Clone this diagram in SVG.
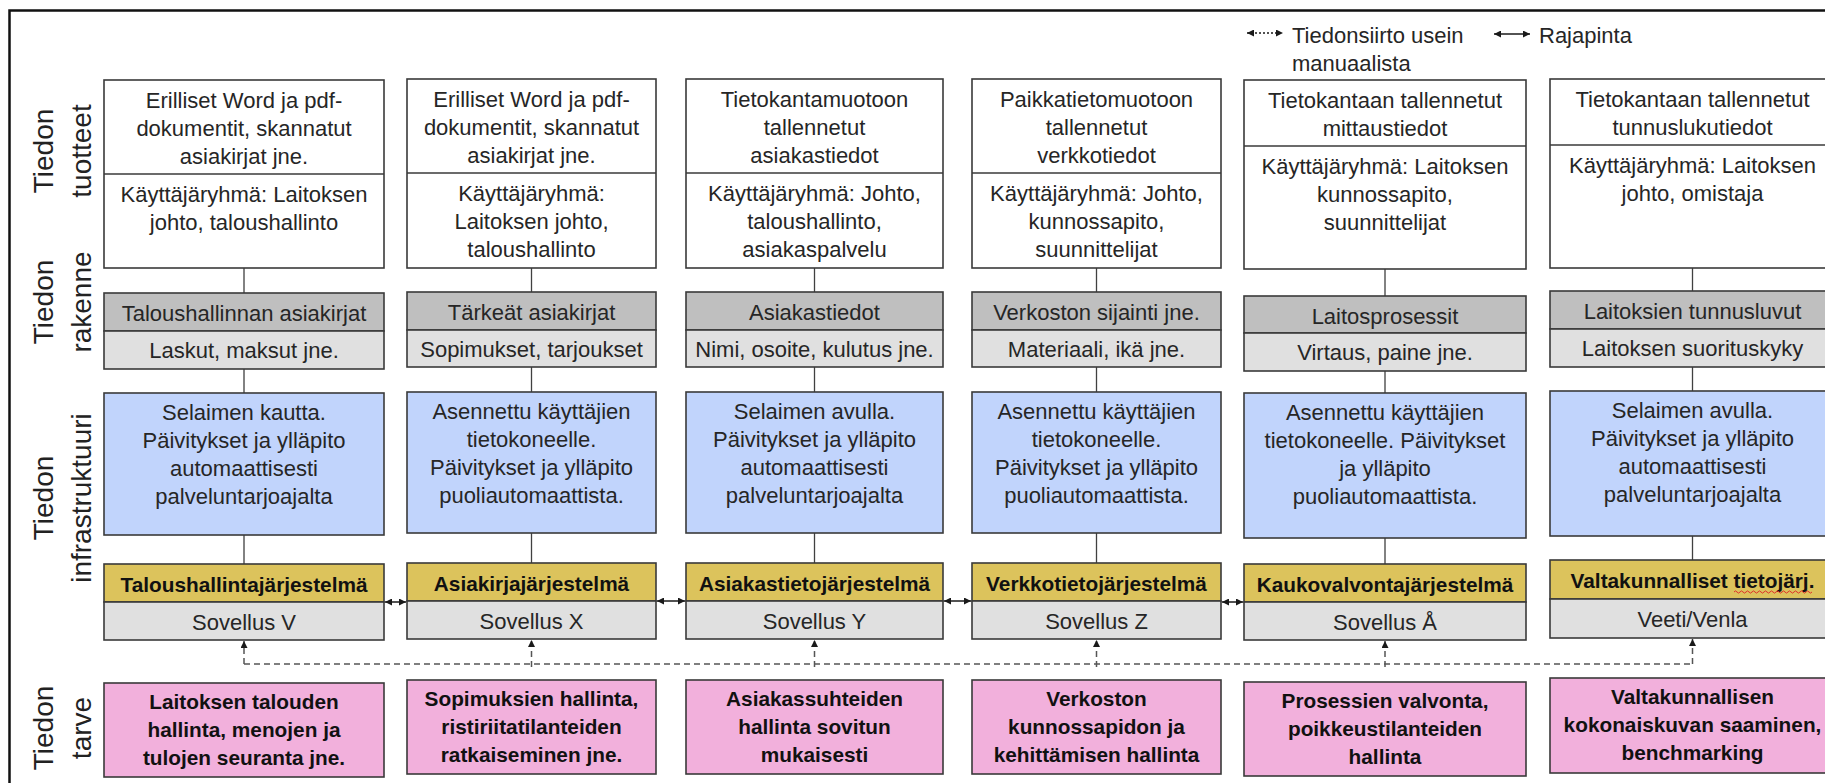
<svg xmlns="http://www.w3.org/2000/svg" width="1825" height="783" viewBox="0 0 1825 783">
<defs>
<style>
.box{stroke:#3a3a3a;stroke-width:1.6}
.w{fill:#ffffff}.dg{fill:#bfbfbf}.lg{fill:#e0e0e0}.bl{fill:#c1d4fc}.ye{fill:#dcc35c}.pk{fill:#f2b0dc}
.div{stroke:#3a3a3a;stroke-width:1.6}
text{font-family:"Liberation Sans",Arial,sans-serif;fill:#262626}
.t{font-size:22px;text-anchor:middle}
.tb{font-size:20.8px;font-weight:bold;text-anchor:middle;fill:#111}
.lbl{font-size:28px;text-anchor:middle;fill:#222}
.leg{font-size:22px}
.con{stroke:#404040;stroke-width:1.3;fill:none}
.api{stroke:#1a1a1a;stroke-width:1.5;fill:none}
.man{stroke:#555;stroke-width:1.5;fill:none;stroke-dasharray:6 4}
</style>
<marker id="ah" viewBox="0 0 10 10" refX="10" refY="5" markerWidth="7" markerHeight="7" markerUnits="userSpaceOnUse" orient="auto-start-reverse">
<path d="M0,0 L10,5 L0,10 z" fill="#1a1a1a"/>
</marker>
</defs>

<!-- frame -->
<path d="M9.5,790 V10.5 H1840" fill="none" stroke="#111" stroke-width="2.5"/>

<!-- row labels -->
<g id="labels">
<text class="lbl" transform="translate(53,151) rotate(-90)"><tspan x="0" y="0">Tiedon</tspan><tspan x="0" y="38">tuotteet</tspan></text>
<text class="lbl" transform="translate(53,302) rotate(-90)"><tspan x="0" y="0">Tiedon</tspan><tspan x="0" y="38">rakenne</tspan></text>
<text class="lbl" transform="translate(53,498) rotate(-90)"><tspan x="0" y="0">Tiedon</tspan><tspan x="0" y="38">infrastruktuuri</tspan></text>
<text class="lbl" transform="translate(53,728) rotate(-90)"><tspan x="0" y="0">Tiedon</tspan><tspan x="0" y="38">tarve</tspan></text>
</g>

<!-- legend -->
<g id="legend">
<line x1="1247" y1="33" x2="1283" y2="33" stroke="#1a1a1a" stroke-width="1.4" stroke-dasharray="2 2" marker-start="url(#ah)" marker-end="url(#ah)"/>
<text class="leg" x="1292" y="43">Tiedonsiirto usein</text>
<text class="leg" x="1292" y="71">manuaalista</text>
<line x1="1494" y1="34" x2="1530" y2="34" class="api" marker-start="url(#ah)" marker-end="url(#ah)"/>
<text class="leg" x="1539" y="43">Rajapinta</text>
</g>

<!-- connectors -->
<g id="connectors">
<path class="con" d="M244,268 V293 M244,369 V393 M244,535 V564"/>
<path class="con" d="M531.5,268 V292 M531.5,367 V392 M531.5,533 V563"/>
<path class="con" d="M814.5,268 V292 M814.5,367 V392 M814.5,533 V563"/>
<path class="con" d="M1096.5,268 V292 M1096.5,367 V392 M1096.5,533 V563"/>
<path class="con" d="M1385,269 V296 M1385,371 V393 M1385,538 V564"/>
<path class="con" d="M1692.5,268 V291 M1692.5,367 V391 M1692.5,536 V560"/>
<line class="api" x1="385" y1="602" x2="406" y2="602" marker-start="url(#ah)" marker-end="url(#ah)"/>
<line class="api" x1="657" y1="601" x2="685" y2="601" marker-start="url(#ah)" marker-end="url(#ah)"/>
<line class="api" x1="944" y1="601" x2="971" y2="601" marker-start="url(#ah)" marker-end="url(#ah)"/>
<line class="api" x1="1222" y1="602" x2="1243" y2="602" marker-start="url(#ah)" marker-end="url(#ah)"/>
<path class="man" d="M244,664 H1692.5"/>
<line class="man" x1="244" y1="664" x2="244" y2="641" marker-end="url(#ah)"/>
<line class="man" x1="531.5" y1="667" x2="531.5" y2="640" marker-end="url(#ah)"/>
<line class="man" x1="814.5" y1="667" x2="814.5" y2="640" marker-end="url(#ah)"/>
<line class="man" x1="1096.5" y1="667" x2="1096.5" y2="640" marker-end="url(#ah)"/>
<line class="man" x1="1385" y1="667" x2="1385" y2="641" marker-end="url(#ah)"/>
<line class="man" x1="1692.5" y1="664" x2="1692.5" y2="639" marker-end="url(#ah)"/>
</g>

<!-- column 1 -->
<g id="tuote-1">
<rect class="box w" x="104" y="80" width="280" height="188"/>
<line class="div" x1="104" y1="174" x2="384" y2="174"/>
<text class="t" x="244" y="108">Erilliset Word ja pdf-</text>
<text class="t" x="244" y="136">dokumentit, skannatut</text>
<text class="t" x="244" y="164">asiakirjat jne.</text>
<text class="t" x="244" y="202">Käyttäjäryhmä: Laitoksen</text>
<text class="t" x="244" y="230">johto, taloushallinto</text>
</g>
<g id="rakenne-1">
<rect class="box dg" x="104" y="293" width="280" height="38"/>
<rect class="box lg" x="104" y="331" width="280" height="38"/>
<text class="t" x="244" y="321">Taloushallinnan asiakirjat</text>
<text class="t" x="244" y="358">Laskut, maksut jne.</text>
</g>
<g id="infra-1">
<rect class="box bl" x="104" y="393" width="280" height="142"/>
<text class="t" x="244" y="420">Selaimen kautta.</text>
<text class="t" x="244" y="448">Päivitykset ja ylläpito</text>
<text class="t" x="244" y="476">automaattisesti</text>
<text class="t" x="244" y="504">palveluntarjoajalta</text>
</g>
<g id="jarjestelma-1">
<rect class="box ye" x="104" y="564" width="280" height="38"/>
<rect class="box lg" x="104" y="602" width="280" height="38"/>
<text class="tb" x="244" y="592">Taloushallintajärjestelmä</text>
<text class="t" x="244" y="630">Sovellus V</text>
</g>
<g id="tarve-1">
<rect class="box pk" x="104" y="683" width="280" height="94"/>
<text class="tb" x="244" y="709">Laitoksen talouden</text>
<text class="tb" x="244" y="737">hallinta, menojen ja</text>
<text class="tb" x="244" y="765">tulojen seuranta jne.</text>
</g>

<!-- column 2 -->
<g id="tuote-2">
<rect class="box w" x="407" y="79" width="249" height="189"/>
<line class="div" x1="407" y1="173" x2="656" y2="173"/>
<text class="t" x="531.5" y="107">Erilliset Word ja pdf-</text>
<text class="t" x="531.5" y="135">dokumentit, skannatut</text>
<text class="t" x="531.5" y="163">asiakirjat jne.</text>
<text class="t" x="531.5" y="201">Käyttäjäryhmä:</text>
<text class="t" x="531.5" y="229">Laitoksen johto,</text>
<text class="t" x="531.5" y="257">taloushallinto</text>
</g>
<g id="rakenne-2">
<rect class="box dg" x="407" y="292" width="249" height="38"/>
<rect class="box lg" x="407" y="330" width="249" height="37"/>
<text class="t" x="531.5" y="320">Tärkeät asiakirjat</text>
<text class="t" x="531.5" y="357">Sopimukset, tarjoukset</text>
</g>
<g id="infra-2">
<rect class="box bl" x="407" y="392" width="249" height="141"/>
<text class="t" x="531.5" y="419">Asennettu käyttäjien</text>
<text class="t" x="531.5" y="447">tietokoneelle.</text>
<text class="t" x="531.5" y="475">Päivitykset ja ylläpito</text>
<text class="t" x="531.5" y="503">puoliautomaattista.</text>
</g>
<g id="jarjestelma-2">
<rect class="box ye" x="407" y="563" width="249" height="38"/>
<rect class="box lg" x="407" y="601" width="249" height="38"/>
<text class="tb" x="531.5" y="591">Asiakirjajärjestelmä</text>
<text class="t" x="531.5" y="629">Sovellus X</text>
</g>
<g id="tarve-2">
<rect class="box pk" x="407" y="680" width="249" height="94"/>
<text class="tb" x="531.5" y="706">Sopimuksien hallinta,</text>
<text class="tb" x="531.5" y="734">ristiriitatilanteiden</text>
<text class="tb" x="531.5" y="762">ratkaiseminen jne.</text>
</g>

<!-- column 3 -->
<g id="tuote-3">
<rect class="box w" x="686" y="79" width="257" height="189"/>
<line class="div" x1="686" y1="173" x2="943" y2="173"/>
<text class="t" x="814.5" y="107">Tietokantamuotoon</text>
<text class="t" x="814.5" y="135">tallennetut</text>
<text class="t" x="814.5" y="163">asiakastiedot</text>
<text class="t" x="814.5" y="201">Käyttäjäryhmä: Johto,</text>
<text class="t" x="814.5" y="229">taloushallinto,</text>
<text class="t" x="814.5" y="257">asiakaspalvelu</text>
</g>
<g id="rakenne-3">
<rect class="box dg" x="686" y="292" width="257" height="38"/>
<rect class="box lg" x="686" y="330" width="257" height="37"/>
<text class="t" x="814.5" y="320">Asiakastiedot</text>
<text class="t" x="814.5" y="357">Nimi, osoite, kulutus jne.</text>
</g>
<g id="infra-3">
<rect class="box bl" x="686" y="392" width="257" height="141"/>
<text class="t" x="814.5" y="419">Selaimen avulla.</text>
<text class="t" x="814.5" y="447">Päivitykset ja ylläpito</text>
<text class="t" x="814.5" y="475">automaattisesti</text>
<text class="t" x="814.5" y="503">palveluntarjoajalta</text>
</g>
<g id="jarjestelma-3">
<rect class="box ye" x="686" y="563" width="257" height="38"/>
<rect class="box lg" x="686" y="601" width="257" height="38"/>
<text class="tb" x="814.5" y="591">Asiakastietojärjestelmä</text>
<text class="t" x="814.5" y="629">Sovellus Y</text>
</g>
<g id="tarve-3">
<rect class="box pk" x="686" y="680" width="257" height="94"/>
<text class="tb" x="814.5" y="706">Asiakassuhteiden</text>
<text class="tb" x="814.5" y="734">hallinta sovitun</text>
<text class="tb" x="814.5" y="762">mukaisesti</text>
</g>

<!-- column 4 -->
<g id="tuote-4">
<rect class="box w" x="972" y="79" width="249" height="189"/>
<line class="div" x1="972" y1="173" x2="1221" y2="173"/>
<text class="t" x="1096.5" y="107">Paikkatietomuotoon</text>
<text class="t" x="1096.5" y="135">tallennetut</text>
<text class="t" x="1096.5" y="163">verkkotiedot</text>
<text class="t" x="1096.5" y="201">Käyttäjäryhmä: Johto,</text>
<text class="t" x="1096.5" y="229">kunnossapito,</text>
<text class="t" x="1096.5" y="257">suunnittelijat</text>
</g>
<g id="rakenne-4">
<rect class="box dg" x="972" y="292" width="249" height="38"/>
<rect class="box lg" x="972" y="330" width="249" height="37"/>
<text class="t" x="1096.5" y="320">Verkoston sijainti jne.</text>
<text class="t" x="1096.5" y="357">Materiaali, ikä jne.</text>
</g>
<g id="infra-4">
<rect class="box bl" x="972" y="392" width="249" height="141"/>
<text class="t" x="1096.5" y="419">Asennettu käyttäjien</text>
<text class="t" x="1096.5" y="447">tietokoneelle.</text>
<text class="t" x="1096.5" y="475">Päivitykset ja ylläpito</text>
<text class="t" x="1096.5" y="503">puoliautomaattista.</text>
</g>
<g id="jarjestelma-4">
<rect class="box ye" x="972" y="563" width="249" height="38"/>
<rect class="box lg" x="972" y="601" width="249" height="38"/>
<text class="tb" x="1096.5" y="591">Verkkotietojärjestelmä</text>
<text class="t" x="1096.5" y="629">Sovellus Z</text>
</g>
<g id="tarve-4">
<rect class="box pk" x="972" y="680" width="249" height="94"/>
<text class="tb" x="1096.5" y="706">Verkoston</text>
<text class="tb" x="1096.5" y="734">kunnossapidon ja</text>
<text class="tb" x="1096.5" y="762">kehittämisen hallinta</text>
</g>

<!-- column 5 -->
<g id="tuote-5">
<rect class="box w" x="1244" y="80" width="282" height="189"/>
<line class="div" x1="1244" y1="146" x2="1526" y2="146"/>
<text class="t" x="1385" y="108">Tietokantaan tallennetut</text>
<text class="t" x="1385" y="136">mittaustiedot</text>
<text class="t" x="1385" y="174">Käyttäjäryhmä: Laitoksen</text>
<text class="t" x="1385" y="202">kunnossapito,</text>
<text class="t" x="1385" y="230">suunnittelijat</text>
</g>
<g id="rakenne-5">
<rect class="box dg" x="1244" y="296" width="282" height="37"/>
<rect class="box lg" x="1244" y="333" width="282" height="38"/>
<text class="t" x="1385" y="324">Laitosprosessit</text>
<text class="t" x="1385" y="360">Virtaus, paine jne.</text>
</g>
<g id="infra-5">
<rect class="box bl" x="1244" y="393" width="282" height="145"/>
<text class="t" x="1385" y="420">Asennettu käyttäjien</text>
<text class="t" x="1385" y="448">tietokoneelle. Päivitykset</text>
<text class="t" x="1385" y="476">ja ylläpito</text>
<text class="t" x="1385" y="504">puoliautomaattista.</text>
</g>
<g id="jarjestelma-5">
<rect class="box ye" x="1244" y="564" width="282" height="38"/>
<rect class="box lg" x="1244" y="602" width="282" height="38"/>
<text class="tb" x="1385" y="592">Kaukovalvontajärjestelmä</text>
<text class="t" x="1385" y="630">Sovellus Å</text>
</g>
<g id="tarve-5">
<rect class="box pk" x="1244" y="682" width="282" height="94"/>
<text class="tb" x="1385" y="708">Prosessien valvonta,</text>
<text class="tb" x="1385" y="736">poikkeustilanteiden</text>
<text class="tb" x="1385" y="764">hallinta</text>
</g>

<!-- column 6 -->
<g id="tuote-6">
<rect class="box w" x="1550" y="79" width="285" height="189"/>
<line class="div" x1="1550" y1="145" x2="1835" y2="145"/>
<text class="t" x="1692.5" y="107">Tietokantaan tallennetut</text>
<text class="t" x="1692.5" y="135">tunnuslukutiedot</text>
<text class="t" x="1692.5" y="173">Käyttäjäryhmä: Laitoksen</text>
<text class="t" x="1692.5" y="201">johto, omistaja</text>
</g>
<g id="rakenne-6">
<rect class="box dg" x="1550" y="291" width="285" height="38"/>
<rect class="box lg" x="1550" y="329" width="285" height="38"/>
<text class="t" x="1692.5" y="319">Laitoksien tunnusluvut</text>
<text class="t" x="1692.5" y="356">Laitoksen suorituskyky</text>
</g>
<g id="infra-6">
<rect class="box bl" x="1550" y="391" width="285" height="145"/>
<text class="t" x="1692.5" y="418">Selaimen avulla.</text>
<text class="t" x="1692.5" y="446">Päivitykset ja ylläpito</text>
<text class="t" x="1692.5" y="474">automaattisesti</text>
<text class="t" x="1692.5" y="502">palveluntarjoajalta</text>
</g>
<g id="jarjestelma-6">
<rect class="box ye" x="1550" y="560" width="285" height="39"/>
<rect class="box lg" x="1550" y="599" width="285" height="39"/>
<text class="tb" x="1692.5" y="588">Valtakunnalliset tietojärj.</text>
<!-- spell-check squiggle under the abbreviated word -->
<path d="M1734,592 q1.5,-2.2 3,0 t3,0 t3,0 t3,0 t3,0 t3,0 t3,0 t3,0 t3,0 t3,0 t3,0 t3,0 t3,0 t3,0 t3,0 t3,0 t3,0 t3,0 t3,0 t3,0 t3,0 t3,0 t3,0 t3,0 t3,0 t3,0" fill="none" stroke="#e0302a" stroke-width="1"/>
<text class="t" x="1692.5" y="627">Veeti/Venla</text>
</g>
<g id="tarve-6">
<rect class="box pk" x="1550" y="678" width="285" height="95"/>
<text class="tb" x="1692.5" y="704">Valtakunnallisen</text>
<text class="tb" x="1692.5" y="732">kokonaiskuvan saaminen,</text>
<text class="tb" x="1692.5" y="760">benchmarking</text>
</g>
</svg>
